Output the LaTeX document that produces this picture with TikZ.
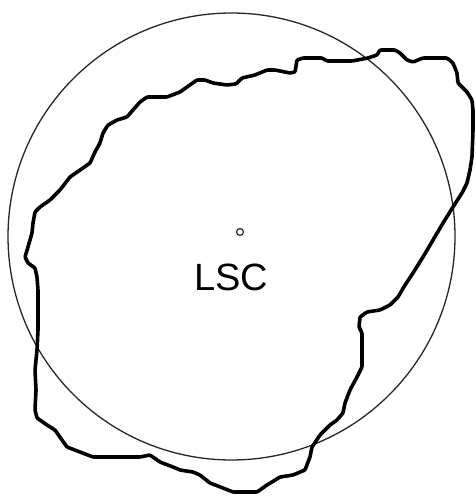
\documentclass[tikz,border=0pt]{standalone}
\usepackage{fontspec}
\setmainfont{Liberation Sans}
\begin{document}
\begin{tikzpicture}[x=1pt,y=-1pt,
  ring/.style={draw=black!85,line width=1.3pt},
  blob/.style={draw=black,line width=3.6pt,line join=round,rounded corners=1pt},
  dot/.style={draw=black!85,line width=1.2pt},
  lbl/.style={inner sep=0pt,font=\fontsize{38}{40}\selectfont,text=black}]
\useasboundingbox (0,0) rectangle (475,496);
\draw[ring] (231.5,236.5) circle[radius=223.5];
\draw[blob] (25,257) -- (28,247) -- (32,233) -- (33,223) -- (35,212) -- (40,207) -- (50,200) -- (60,190) -- (70,177) -- (83,168) -- (90,163) -- (95,152) -- (100,143) -- (103,133) -- (108,125) -- (117,120) -- (127,117) -- (133,110) -- (140,102) -- (147,97) -- (167,97) -- (180,92) -- (187,87) -- (197,80) -- (205,80) -- (213,83) -- (227,85) -- (236,84) -- (242,78) -- (255,75) -- (267,70) -- (275,70) -- (290,73) -- (295,72) -- (297,60) -- (303,58) -- (322,58) -- (327,61) -- (352,61) -- (368,58) -- (377,55) -- (380,50) -- (395,50) -- (400,53) -- (407,60) -- (413,62) -- (423,58) -- (447,58) -- (453,63) -- (457,73) -- (458,83) -- (467,92) -- (472,100) -- (473,110) -- (473,130) -- (472,157) -- (470,170) -- (467,183) -- (462,193) -- (453,207) -- (443,223) -- (433,240) -- (423,257) -- (413,273) -- (405,285) -- (398,297) -- (390,305) -- (380,310) -- (367,312) -- (360,317) -- (359,327) -- (362,333) -- (362,367) -- (357,377) -- (350,390) -- (345,403) -- (343,413) -- (337,420) -- (330,425) -- (320,435) -- (312,447) -- (310,457) -- (305,470) -- (293,475) -- (280,477) -- (267,485) -- (257,492) -- (233,492) -- (223,488) -- (210,483) -- (200,475) -- (193,472) -- (180,470) -- (173,467) -- (160,462) -- (150,455) -- (140,457) -- (120,457) -- (93,457) -- (80,452) -- (67,447) -- (62,440) -- (55,430) -- (47,425) -- (37,418) -- (35,410) -- (36,390) -- (35,370) -- (37,350) -- (38,330) -- (38,290) -- (37,277) -- (35,268) -- (28,263) -- cycle;
\node[dot,circle,minimum size=7pt,inner sep=0pt] (c) at (240,232) {};
\node[lbl,anchor=base west] (lsc) at (194,290) {LSC};
\end{tikzpicture}
\end{document}
